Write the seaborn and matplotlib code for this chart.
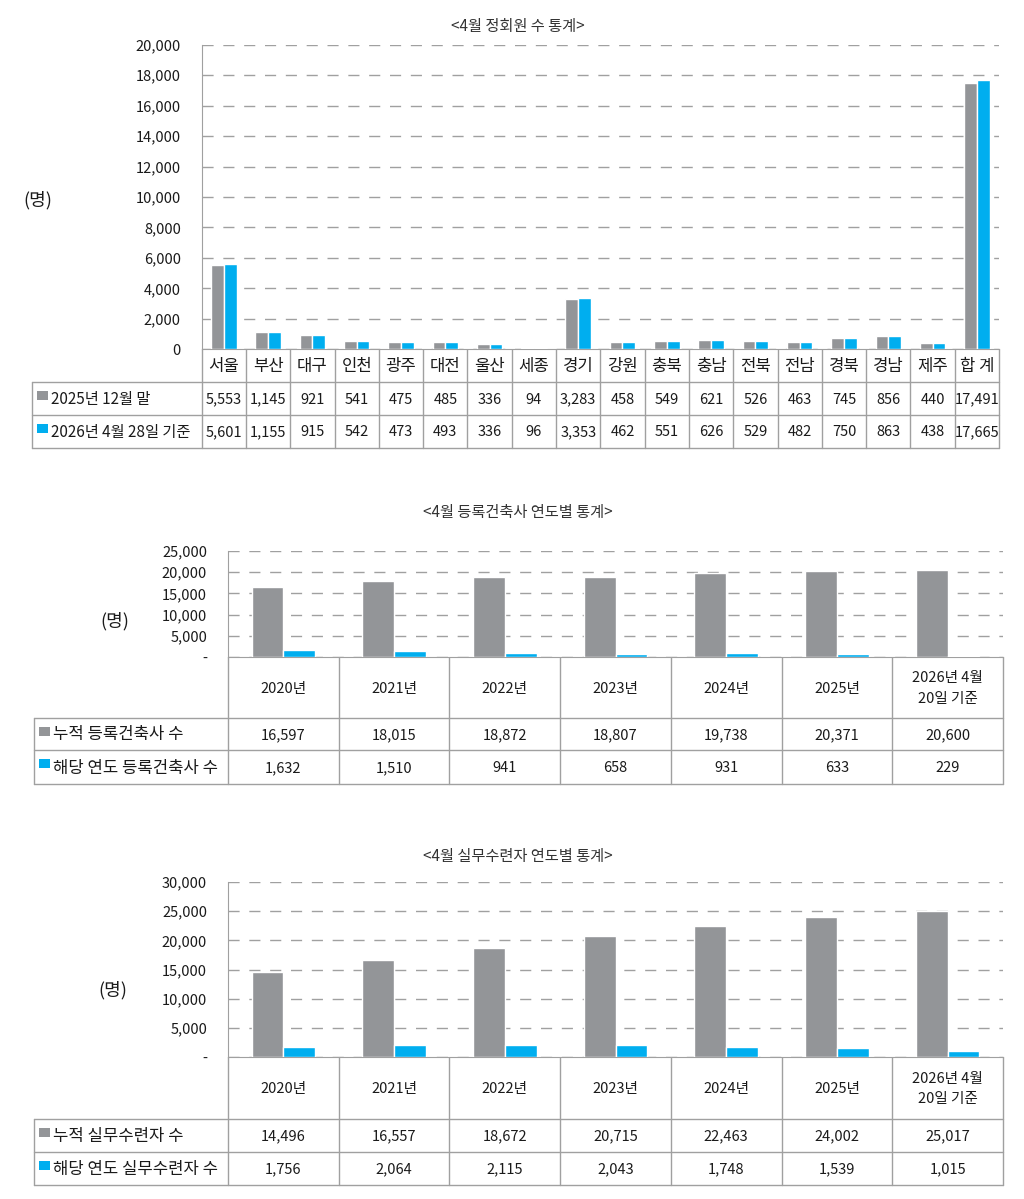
import matplotlib
matplotlib.use("Agg")
import matplotlib.pyplot as plt
import matplotlib.transforms as mtransforms
from matplotlib.patches import Rectangle
import seaborn as sns
import pandas as pd

# chart 1 - members by region
regions = ['서울', '부산', '대구', '인천', '광주', '대전', '울산', '세종', '경기',
           '강원', '충북', '충남', '전북', '전남', '경북', '경남', '제주', '합 계']
members_2025_dec = [5553, 1145, 921, 541, 475, 485, 336, 94, 3283,
                    458, 549, 621, 526, 463, 745, 856, 440, 17491]
members_2026_apr = [5601, 1155, 915, 542, 473, 493, 336, 96, 3353,
                    462, 551, 626, 529, 482, 750, 863, 438, 17665]
member_rows = ['2025년 12월 말', '2026년 4월 28일 기준']

# chart 2 / 3 - yearly
years = ['2020년', '2021년', '2022년', '2023년', '2024년', '2025년', '2026년 4월\n20일 기준']
arch_total = [16597, 18015, 18872, 18807, 19738, 20371, 20600]
arch_new = [1632, 1510, 941, 658, 931, 633, 229]
arch_rows = ['누적 등록건축사 수', '해당 연도 등록건축사 수']
trainee_total = [14496, 16557, 18672, 20715, 22463, 24002, 25017]
trainee_new = [1756, 2064, 2115, 2043, 1748, 1539, 1015]
trainee_rows = ['누적 실무수련자 수', '해당 연도 실무수련자 수']

GRAY = '#939598'
BLUE = '#00aeef'
LINE = '#a0a0a0'
TXT = '#1a1a1a'
W, H = 1024, 1199

sns.set_style('white')
plt.rcParams['font.family'] = ['Noto Sans CJK KR', 'DejaVu Sans']

fig = plt.figure(figsize=(W / 100, H / 100), dpi=100)
over = fig.add_axes([0, 0, 1, 1])
over.set_xlim(0, W)
over.set_ylim(H, 0)
over.axis('off')


def box(l, t, r, b):
    return [l / W, 1 - b / H, (r - l) / W, (b - t) / H]


def panel(title, title_y, cats, s1, s2, rows, frame, row_y, tab_left,
          ylab_xy, step, ymax, zero_lbl, cat_fs, row_fs):
    l, t, r, b = frame
    ax = fig.add_axes(box(l, t, r, b))
    df = pd.DataFrame({
        'cat': cats * 2,
        'val': s1 + s2,
        'ser': [rows[0]] * len(cats) + [rows[1]] * len(cats),
    })
    sns.barplot(data=df, x='cat', y='val', hue='ser', palette=[GRAY, BLUE],
                width=0.575, saturation=1, legend=False, ax=ax, zorder=3)
    n = len(cats)
    ax.set_xlim(-0.5, n - 0.5)
    ax.set_ylim(0, ymax)
    ticks = list(range(0, ymax + 1, step))
    ax.set_yticks(ticks)
    ax.set_yticklabels([zero_lbl if v == 0 else f'{v:,}' for v in ticks],
                       fontsize=10.5, color=TXT)
    ax.tick_params(axis='y', length=4, color=LINE, pad=11)
    ax.set_xticks([])
    ax.set_xlabel('')
    ax.set_ylabel('')
    ax.yaxis.grid(True, linestyle=(0, (8, 7)), color=LINE, linewidth=1, zorder=0)
    ax.set_axisbelow(True)
    for s in ['top', 'right']:
        ax.spines[s].set_visible(False)
    ax.spines['left'].set_color(LINE)
    ax.spines['bottom'].set_color(LINE)

    # title and unit
    over.text(518, title_y, title, ha='center', va='center',
              fontsize=11, color='#333333')
    over.text(ylab_xy[0], ylab_xy[1], '(명)', ha='center', va='center',
              fontsize=13, color=TXT)

    # table under the plot
    tr = mtransforms.blended_transform_factory(ax.transData, over.transData)
    y0, y1, y2, y3 = row_y
    for i in range(n + 1):
        over.plot([i - 0.5, i - 0.5], [y0, y3], color=LINE, lw=1,
                  transform=tr, clip_on=False)
    for yy in [y1, y2, y3]:
        over.plot([tab_left, r], [yy, yy], color=LINE, lw=1, clip_on=False)
    over.plot([tab_left, tab_left], [y1, y3], color=LINE, lw=1, clip_on=False)
    for i, c in enumerate(cats):
        over.text(i, (y0 + y1) / 2 + 1, c, transform=tr, ha='center',
                  va='center', fontsize=cat_fs, color=TXT, linespacing=1.6)
        over.text(i, (y1 + y2) / 2 + 1, f'{s1[i]:,}', transform=tr,
                  ha='center', va='center', fontsize=10.5, color=TXT)
        over.text(i, (y2 + y3) / 2 + 1, f'{s2[i]:,}', transform=tr,
                  ha='center', va='center', fontsize=10.5, color=TXT)
    for k, (ya, yb) in enumerate([(y1, y2), (y2, y3)]):
        over.add_patch(Rectangle((tab_left + 5, ya + 9), 11, 9,
                                 color=[GRAY, BLUE][k], lw=0))
        over.text(tab_left + 19, (ya + yb) / 2 + 1, rows[k], ha='left',
                  va='center', fontsize=row_fs, color=TXT)


panel('<4월 정회원 수 통계>', 27, regions, members_2025_dec, members_2026_apr,
      member_rows, (201.7, 44.7, 999, 349.3), (349.3, 382, 415, 448), 32,
      (38, 200), 2000, 20000, '0', 12, 11)

panel('<4월 등록건축사 연도별 통계>', 513, years, arch_total, arch_new,
      arch_rows, (228, 551, 1003, 657), (657, 718, 750, 784), 34,
      (115, 621), 5000, 25000, '-', 10.5, 12)

panel('<4월 실무수련자 연도별 통계>', 857, years, trainee_total, trainee_new,
      trainee_rows, (228, 882, 1003, 1057), (1057, 1119, 1152, 1185), 34,
      (113, 990), 5000, 30000, '-', 10.5, 12)

fig.savefig('out.png', dpi=100)
